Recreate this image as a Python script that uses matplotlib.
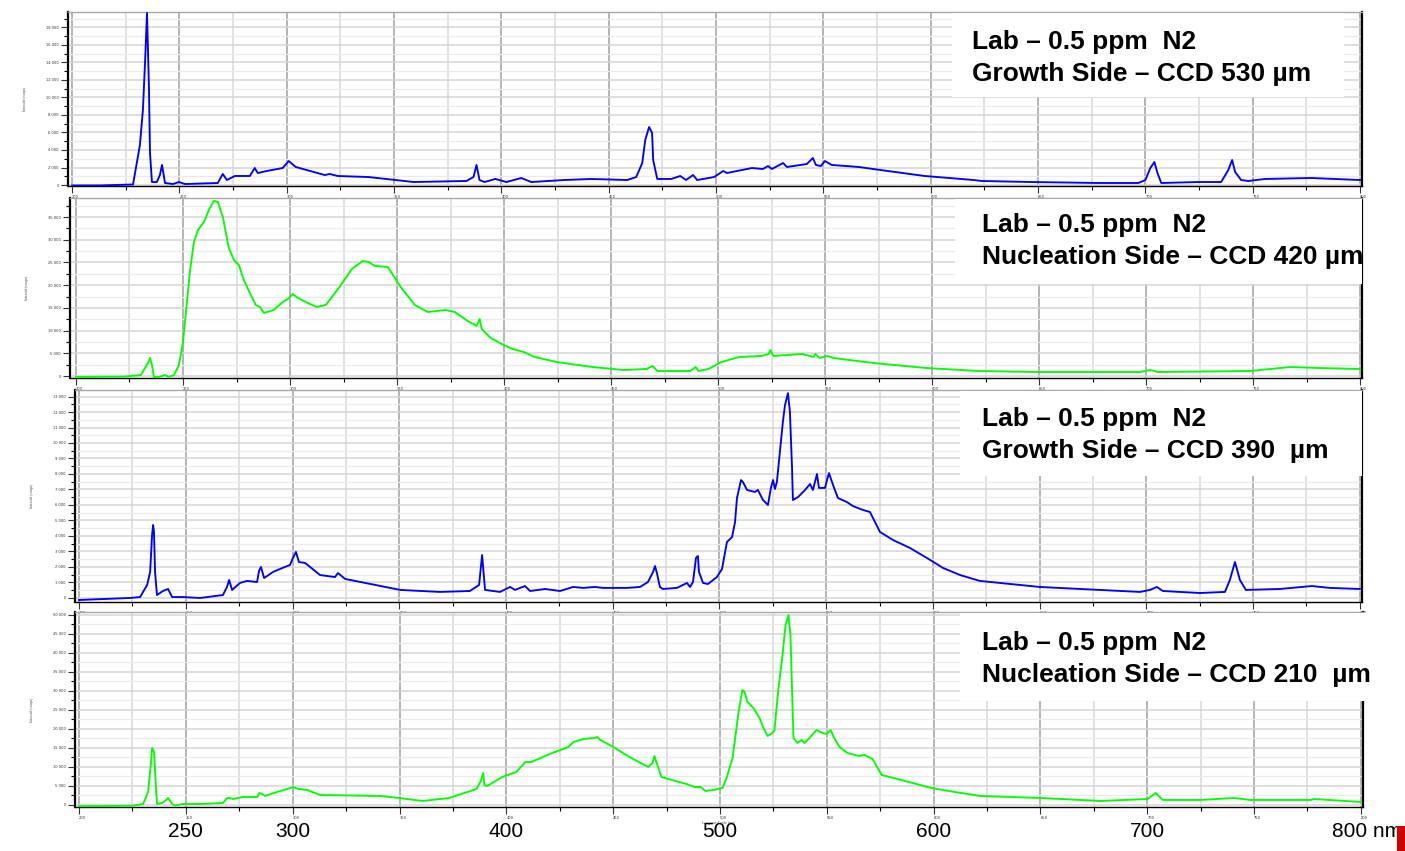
import matplotlib
matplotlib.use("Agg")
import matplotlib.pyplot as plt
from matplotlib.patches import Rectangle
from matplotlib.ticker import MultipleLocator, FuncFormatter

# spectre 1 : Lab 0.5 ppm N2, Growth side, CCD 530 um
p1_nm = [200, 213, 228.4, 231.6, 233.0, 234.0, 234.9, 235.8, 236.3, 237.2, 239.5, 240.9, 241.9,
         243.3, 247.0, 249.8, 252.6, 267.9, 270.2, 272.1, 275.8, 282.8, 285.1, 286.5, 290.7,
         298.1, 300.9, 304.2, 309.3, 317.7, 320.0, 323.7, 338.1, 350.7, 359.1, 383.7, 387.0,
         388.4, 389.8, 392.1, 397.2, 402.3, 409.3, 413.9, 429.3, 441.9, 458.6, 462.8, 465.6,
         467.0, 468.8, 470.2, 470.7, 472.6, 479.1, 483.3, 486.0, 489.3, 491.2, 499.1, 503.3,
         505.1, 516.7, 521.8, 524.2, 526.0, 531.2, 533.0, 542.3, 545.1, 546.5, 548.8, 550.7,
         553.9, 566.5, 576.7, 597.2, 620.0, 623.7, 647.0, 678.1, 696.7, 700.0, 702.3, 704.2,
         705.6, 707.4, 724.6, 735.3, 738.6, 740.4, 741.8, 744.6, 747.9, 755.8, 777.2, 800]
p1_counts = [-50, -50, 60, 4570, 8570, 14060, 19660, 11200, 3660, 340, 340, 1140, 2290,
             230, 110, 340, 110, 230, 1260, 570, 1030, 1030, 1940, 1370, 1600,
             1940, 2740, 2060, 1710, 1140, 1260, 1030, 910, 570, 340, 460, 910,
             2290, 570, 340, 690, 340, 800, 340, 570, 690, 570, 910, 2510,
             5140, 6630, 5940, 2860, 690, 690, 1030, 570, 1140, 570, 910, 1600,
             1370, 1940, 1830, 2170, 1830, 2510, 2060, 2400, 3090, 2290, 2170, 2740,
             2290, 2060, 1710, 1030, 570, 460, 340, 230, 230, 570, 1940, 2630,
             1370, 230, 340, 340, 1710, 2860, 1490, 570, 460, 690, 800, 570]

# spectre 2 : Nucleation side, CCD 420 um
p2_nm = [200, 222.4, 230.3, 233.6, 234.6, 235.5, 236.4, 238.8, 241.6, 243.4, 245.8, 248.1, 250.0,
         251.4, 253.2, 255.1, 257.0, 259.8, 262.1, 264.4, 266.3, 268.6, 271.4, 273.8, 276.1,
         278.4, 281.7, 284.0, 285.9, 287.8, 292.4, 296.6, 299.0, 301.3, 303.7, 308.3, 312.5,
         316.7, 322.8, 328.9, 334.0, 336.8, 339.6, 345.7, 351.7, 358.3, 364.3, 372.8, 377.0,
         383.0, 387.2, 388.6, 389.6, 393.8, 399.8, 404.0, 409.2, 414.3, 424.6, 441.4, 455.9,
         466.6, 469.4, 471.7, 487.1, 489.5, 490.9, 495.5, 501.6, 510.0, 520.3, 523.6, 524.5,
         525.9, 539.4, 544.6, 545.5, 547.4, 551.1, 553.9, 572.6, 597.3, 622.1, 650.6, 697.2,
         701.9, 705.6, 748.6, 767.3, 781.3, 800]
p2_counts = [-220, -150, 220, 2860, 3970, 2420, -220, -220, 220, -220, 220, 2420, 7490,
             14100, 22910, 29520, 32160, 33930, 36570, 38550, 38330, 35030, 28200, 25550, 24450,
             21150, 17840, 15640, 15200, 13880, 14540, 16300, 16960, 18060, 17180, 16080, 15200,
             15640, 19390, 23570, 25330, 25110, 24230, 24010, 19610, 15640, 14100, 14540, 14100,
             12120, 11020, 12560, 10350, 8370, 6830, 5950, 5290, 4190, 3080, 1980, 1320,
             1540, 2200, 1100, 1100, 1980, 1100, 1540, 3080, 4190, 4410, 4850, 5730,
             4410, 4850, 4190, 4850, 3970, 4410, 3970, 2860, 1760, 1100, 880, 880,
             1320, 880, 1100, 1980, 1760, 1540]

# spectre 3 : Growth side, CCD 390 um
p3_nm = [200, 223.9, 228.6, 231.9, 233.3, 234.2, 234.7, 235.1, 235.6, 236.5, 239.3, 241.7, 243.6,
         248.7, 256.7, 267.4, 269.3, 270.3, 271.7, 275.4, 278.7, 283.4, 284.3, 285.2, 286.7,
         290.9, 294.1, 298.8, 300.2, 301.6, 303.0, 305.9, 312.9, 319.9, 321.3, 324.6, 334.0,
         350.4, 369.1, 383.1, 387.4, 388.8, 390.2, 397.2, 401.9, 404.2, 408.9, 411.3, 418.3,
         425.3, 431.4, 436.1, 441.7, 445.4, 456.7, 462.8, 466.5, 468.9, 469.8, 470.7, 472.1,
         473.5, 480.1, 484.8, 486.2, 487.6, 489.0, 489.9, 490.4, 492.3, 494.6, 498.8, 501.2,
         503.5, 505.9, 507.3, 508.2, 510.1, 511.0, 512.9, 516.6, 518.0, 520.4, 522.7, 524.1,
         525.1, 526.0, 526.9, 528.3, 529.7, 530.7, 532.1, 533.0, 534.0, 534.4, 536.8, 540.1,
         542.4, 543.8, 545.7, 546.6, 549.4, 551.3, 553.2, 555.5, 559.7, 562.5, 567.2, 570.5,
         575.2, 581.3, 589.2, 597.2, 604.7, 612.7, 622.0, 650.1, 678.2, 697.0, 701.7, 704.9,
         707.7, 725.1, 736.8, 739.1, 741.5, 743.8, 746.6, 762.5, 777.5, 785.9, 800]
p3_counts = [-130, 0, 60, 840, 1680, 4060, 4710, 4260, 1680, 190, 450, 580, 60,
             60, 0, 190, 710, 1160, 520, 970, 1100, 1030, 1740, 2000, 1290,
             1680, 1870, 2130, 2580, 2970, 2320, 2260, 1480, 1350, 1610, 1230, 970,
             520, 390, 450, 840, 2770, 520, 390, 710, 520, 770, 450, 580,
             450, 710, 650, 710, 650, 650, 710, 1030, 1680, 2060, 1610, 710,
             580, 650, 970, 710, 1030, 2580, 2710, 1680, 970, 900, 1350, 1870,
             3610, 3930, 4900, 6450, 7610, 7480, 6970, 6840, 6970, 6320, 6000, 7100,
             7610, 7030, 7480, 9420, 11350, 12450, 13220, 12000, 8390, 6320, 6510, 6970,
             7350, 6970, 8000, 7100, 7100, 8060, 7290, 6450, 6190, 5930, 5680, 5550,
             4260, 3740, 3230, 2580, 1940, 1480, 1100, 710, 520, 390, 520, 710,
             450, 320, 390, 1160, 2320, 1160, 520, 580, 770, 650, 580]

# spectre 4 : Nucleation side, CCD 210 um
p4_nm = [200, 225.3, 230.0, 232.3, 233.7, 234.2, 235.1, 236.1, 236.5, 238.9, 240.8, 241.7, 243.6,
         245.0, 248.2, 256.7, 267.4, 269.3, 270.3, 272.1, 276.8, 283.4, 284.3, 285.7, 287.1,
         292.7, 297.4, 300.2, 302.6, 306.8, 312.9, 341.0, 349.9, 360.7, 373.3, 386.0, 387.8,
         389.2, 389.7, 391.1, 398.1, 404.7, 408.9, 411.7, 421.5, 429.0, 431.4, 436.1, 441.2,
         442.6, 444.0, 450.1, 457.6, 466.5, 468.4, 469.3, 470.7, 472.6, 479.2, 484.3, 488.1,
         490.9, 493.2, 497.0, 501.2, 503.1, 505.9, 508.7, 510.5, 511.5, 512.9, 515.7, 518.5,
         520.4, 522.3, 524.6, 525.5, 527.4, 529.3, 530.7, 532.1, 533.0, 534.4, 536.3, 538.2,
         539.6, 541.9, 545.2, 548.0, 549.9, 551.8, 553.2, 556.0, 559.7, 564.9, 567.7, 571.4,
         575.7, 581.3, 588.3, 599.1, 609.9, 622.0, 650.1, 678.2, 700.2, 704.0, 707.3, 725.1,
         740.5, 748.5, 776.6, 778.0, 800]
p4_counts = [-300, -200, 260, 3420, 11310, 15000, 13940, 3420, 260, 530, 1320, 1840, 260,
             -200, 260, 260, 530, 1840, 1840, 1580, 2100, 2100, 3160, 2890, 2370,
             3420, 4210, 4730, 4210, 3950, 2630, 2370, 1840, 1050, 1840, 4210, 6050,
             8420, 5260, 5000, 7360, 8680, 11310, 11310, 13680, 15250, 16570, 17360, 17620,
             17880, 17100, 15250, 12620, 9990, 11050, 12890, 10520, 7360, 6310, 5520, 4730,
             4730, 3680, 3950, 4470, 7100, 12360, 24460, 30250, 29720, 27090, 25510, 22880,
             20250, 18150, 18940, 19730, 30770, 39450, 47340, 49970, 44710, 17620, 16310, 17100,
             16310, 17620, 19730, 18940, 18670, 19730, 17880, 15250, 13680, 12890, 13150, 12100,
             7890, 7100, 6050, 4470, 3420, 2370, 1840, 1050, 1580, 3160, 1320, 1320,
             1840, 1320, 1320, 1580, 790]

y_major = [2000, 5000, 1000, 5000]
y_limits = [(-114, 19770), (-440, 39200), (-260, 13420), (-530, 50760)]
x_limits = [(198.1, 800.9), (197.2, 800.9), (198.1, 801.0), (198.1, 801.0)]
colors = ["#0000ff", "#00ff00", "#0000ff", "#00ff00"]

line1 = "Lab \u2013 0.5 ppm  N2"
line2 = ["Growth Side \u2013 CCD 530 \u00b5m",
         "Nucleation Side \u2013 CCD 420 \u00b5m",
         "Growth Side \u2013 CCD 390  \u00b5m",
         "Nucleation Side \u2013 CCD 210  \u00b5m"]

big_ticks = [250, 300, 400, 500, 600, 700]
big_labels = ["250", "300", "400", "500", "600", "700"]

W, H = 1405, 851
fig = plt.figure(figsize=(W / 100, H / 100), dpi=100)

# boites en pixels : gauche, haut, droite, bas
boxes = [(68, 12, 1362, 186), (70, 198, 1362, 378), (75, 390, 1362, 602), (75, 612, 1363, 807)]
white = [(952, 13, 1344, 97), (955, 199, 1362, 284), (960, 391, 1362, 476), (960, 613, 1380, 701)]
txt_pos = [(972, 49), (982, 232), (982, 426), (982, 650)]

series = [(p1_nm, p1_counts), (p2_nm, p2_counts), (p3_nm, p3_counts), (p4_nm, p4_counts)]

fmt = FuncFormatter(lambda v, pos: "{:,}".format(int(round(v))).replace(",", " "))

axes = []
for i in range(4):
    l, t, r, b = boxes[i]
    ax = fig.add_axes([l / W, 1 - b / H, (r - l) / W, (b - t) / H])
    nm, cts = series[i]
    ax.plot(nm, cts, color=colors[i], lw=1.35, zorder=3)
    ax.set_xlim(*x_limits[i])
    ax.set_ylim(*y_limits[i])

    ax.xaxis.set_major_locator(MultipleLocator(50))
    ax.xaxis.set_minor_locator(MultipleLocator(25))
    ax.yaxis.set_major_locator(MultipleLocator(y_major[i]))
    ax.yaxis.set_minor_locator(MultipleLocator(y_major[i] / 2))
    ax.yaxis.set_major_formatter(fmt)
    ax.xaxis.set_major_formatter(FuncFormatter(lambda v, pos: "%d" % v))

    ax.grid(which="major", axis="x", color="#a8a8a8", lw=1.2)
    ax.grid(which="minor", axis="x", color="#dcdcdc", lw=1.2)
    ax.grid(which="major", axis="y", color="#d6d6d6", lw=1.1)
    ax.grid(which="minor", axis="y", color="#ebebeb", lw=0.9)
    ax.set_axisbelow(True)

    ax.tick_params(which="major", length=5, width=0.8, labelsize=2.6, pad=1.5, colors="#333333")
    ax.tick_params(which="minor", length=3, width=0.8)
    for lab in ax.get_xticklabels():
        lab.set_horizontalalignment("left")

    ax.spines["left"].set_linewidth(1.6)
    ax.spines["right"].set_linewidth(1.6)
    ax.spines["bottom"].set_linewidth(1.0)
    ax.spines["top"].set_color("#a8a8a8")
    ax.spines["top"].set_linewidth(1.0)

    ax.set_xlabel("Longueur d'onde (nm)", fontsize=2.6, labelpad=0.5, family="Liberation Serif",
                  color="#444444")
    ax.set_ylabel("Intensit\u00e9 (coups)", fontsize=2.6, labelpad=14, family="Liberation Serif",
                  color="#444444")
    axes.append(ax)

# cadres blancs et legendes
for i in range(4):
    l, t, r, b = white[i]
    fig.add_artist(Rectangle((l / W, 1 - b / H), (r - l) / W, (b - t) / H,
                             transform=fig.transFigure, facecolor="white", edgecolor="none",
                             zorder=5))
    x0, y0 = txt_pos[i]
    fig.text(x0 / W, 1 - y0 / H, line1, fontsize=19, fontweight="bold", family="Liberation Sans",
             va="baseline", zorder=6)
    fig.text(x0 / W, 1 - (y0 + 32) / H, line2[i], fontsize=19, fontweight="bold",
             family="Liberation Sans", va="baseline", zorder=6)

# grandes graduations en bas
ax4 = axes[3]
for v, s in zip(big_ticks, big_labels):
    ax4.text(v, -0.125, s, transform=ax4.get_xaxis_transform(), ha="center", va="center",
             fontsize=15, family="Liberation Sans", clip_on=False)
ax4.text(786.5, -0.125, "800 nm", transform=ax4.get_xaxis_transform(), ha="left", va="center",
         fontsize=15, family="Liberation Sans", clip_on=False)

fig.add_artist(Rectangle((1397 / W, 0), 8 / W, 25 / H, transform=fig.transFigure,
                         facecolor="#d40000", edgecolor="none", zorder=5))

fig.savefig("out.png", dpi=100)
